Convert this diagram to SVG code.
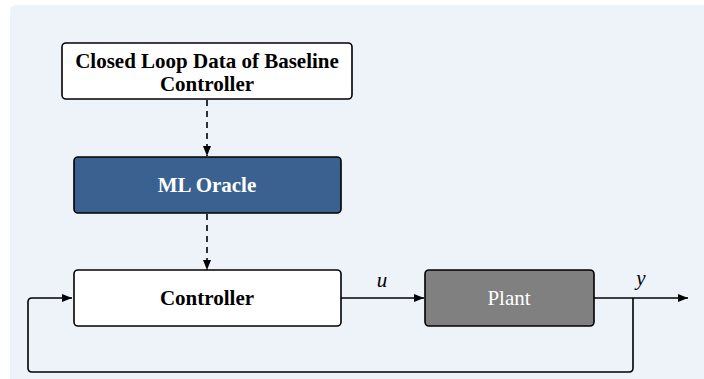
<svg xmlns="http://www.w3.org/2000/svg" width="704" height="379" viewBox="0 0 704 379">
<defs>
<marker id="ah" markerWidth="10" markerHeight="8" refX="10" refY="4" orient="auto" markerUnits="userSpaceOnUse">
<path d="M0,0 L10,4 L0,8 Z" fill="#000"/>
</marker>
<style>
.box{stroke:#000;stroke-width:1.6}
.t{font-family:"Liberation Serif","Times New Roman",serif;font-size:21px;text-anchor:middle}
.b{font-weight:bold}
.line{fill:none;stroke:#000;stroke-width:1.6}
.dash{stroke-dasharray:6,5}
</style>
</defs>
<rect x="10" y="5" width="720" height="400" rx="6" fill="#eef2f9"/>
<g id="connectors">
<path class="line dash" d="M207,100 V156" marker-end="url(#ah)"/>
<path class="line dash" d="M207,214 V270" marker-end="url(#ah)"/>
<path class="line" d="M341,298 H424" marker-end="url(#ah)"/>
<path class="line" d="M594,298 H688" marker-end="url(#ah)"/>
<path class="line" d="M633,298 V368 Q633,372 629,372 H32 Q28,372 28,368 V302 Q28,298 32,298 H72" marker-end="url(#ah)"/>
<text class="t" x="382" y="287" font-style="italic">u</text>
<text class="t" x="641" y="285" font-style="italic">y</text>
</g>
<g id="data">
<rect class="box" x="62" y="43" width="290" height="56" rx="4" fill="#fff"/>
<text class="t b" x="207" y="68">Closed Loop Data of Baseline</text>
<text class="t b" x="207" y="91">Controller</text>
</g>
<g id="oracle">
<rect class="box" x="74" y="157" width="267" height="56" rx="4" fill="#3a6190"/>
<text class="t b" x="207" y="192" fill="#fff">ML Oracle</text>
</g>
<g id="controller">
<rect class="box" x="74" y="270" width="267" height="56" rx="4" fill="#fff"/>
<text class="t b" x="207" y="305">Controller</text>
</g>
<g id="plant">
<rect class="box" x="425" y="270" width="169" height="56" rx="4" fill="#808080"/>
<text class="t" x="509" y="305" fill="#fff">Plant</text>
</g>
</svg>
